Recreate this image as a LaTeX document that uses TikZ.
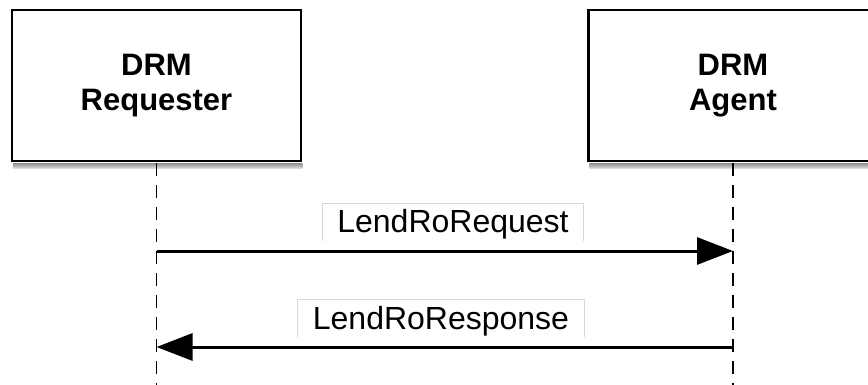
\documentclass[tikz,border=0pt]{standalone}
\usepackage{fontspec}
\setmainfont{Liberation Sans}
\usetikzlibrary{arrows.meta}
\definecolor{framegray}{HTML}{D8D8D8}
\tikzset{
  actor/.style={draw=black, line width=2.5pt, fill=white,
    minimum width=289pt, minimum height=151pt, inner sep=0pt,
    align=center, font=\bfseries\fontsize{31}{35}\selectfont},
  lifeline/.style={line width=1.8pt, dash pattern=on 13pt off 9pt},
  msg/.style={line width=3pt, -{Triangle[length=36pt,width=27pt]}},
  msglabel/.style={inner xsep=15pt, inner ysep=0pt, text height=29pt,
    text depth=8pt, font=\fontsize{32}{35}\selectfont},
  msgframe/.style={draw=framegray, line width=1pt},
  boxshadow/.style={top color=gray!85, bottom color=gray!20}
}
\begin{document}
\begin{tikzpicture}[x=1pt, y=-1pt]
  \path[use as bounding box, clip] (0,0) rectangle (868,385);

  % participants
  \node[actor] (req) at (156.5,85.5) {DRM\\Requester};
  \node[actor] (agt) at (733,85.5) {DRM\\Agent};

  % soft shadows under the boxes
  \shade[boxshadow] ([xshift=2pt,yshift=-1.2pt]req.south west) rectangle ([yshift=-6.5pt]req.south east);
  \shade[boxshadow] ([xshift=2pt,yshift=-1.2pt]agt.south west) rectangle ([yshift=-6.5pt]agt.south east);

  % lifelines
  \coordinate (reqEnd) at (req.south |- 0,386);
  \coordinate (agtEnd) at (agt.south |- 0,386);
  \draw[lifeline] ([yshift=-1.2pt]req.south) -- (reqEnd);
  \draw[lifeline] ([yshift=-1.2pt]agt.south) -- (agtEnd);

  % messages
  \coordinate (reqA) at (req.south |- 0,251);
  \coordinate (agtA) at (agt.south |- 0,251);
  \coordinate (reqB) at (req.south |- 0,347);
  \coordinate (agtB) at (agt.south |- 0,347);
  \draw[msg] (reqA) -- (agtA);
  \draw[msg] (agtB) -- (reqB);

  % message labels with open frames
  \node[msglabel, anchor=base] (lreq) at (453,233) {LendRoRequest};
  \draw[msgframe] (lreq.south west) -- (lreq.north west) -- (lreq.north east) -- (lreq.south east);
  \node[msglabel, anchor=base] (lres) at (441,329) {LendRoResponse};
  \draw[msgframe] (lres.south west) -- (lres.north west) -- (lres.north east) -- (lres.south east);
\end{tikzpicture}
\end{document}
